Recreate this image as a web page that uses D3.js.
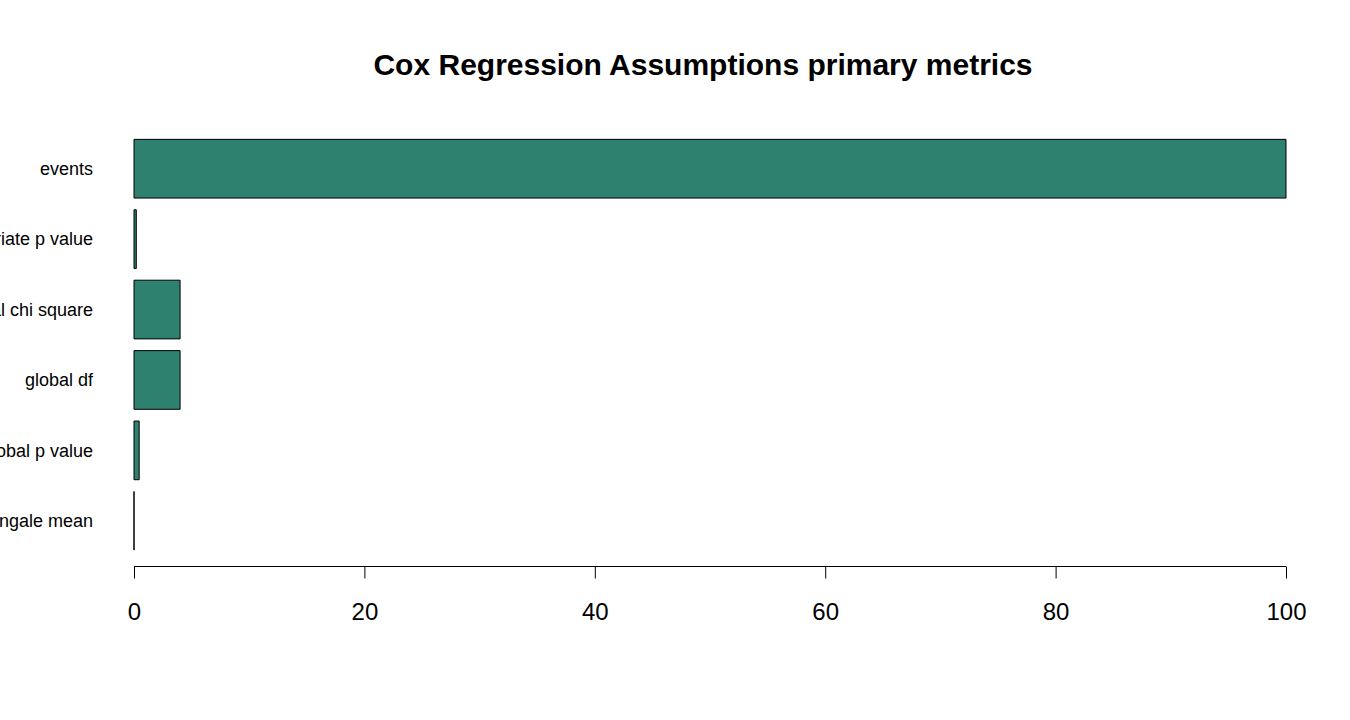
<!DOCTYPE html>
<html>
<head>
<meta charset="utf-8">
<script src="https://cdn.jsdelivr.net/npm/d3@7"></script>
<style>
  body { margin: 0; background: #fff; }
  svg { display: block; font-family: "Liberation Sans", Arial, sans-serif; }
</style>
</head>
<body>
<div id="chart"></div>
<script>
// metric names and values (top to bottom)
const metrics = ["events", "min covariate p value", "global chi square", "global df", "global p value", "martingale mean"];
const values = [100, 0.2, 4, 4, 0.45, 0];
const xTicks = [0, 20, 40, 60, 80, 100];

const width = 1350, height = 720;
const barColor = "#2e806f";

const svg = d3.select("#chart")
  .append("svg")
  .attr("width", width)
  .attr("height", height);

// plot region as in the base R barplot
const x = d3.scaleLinear().domain([0, 100]).range([134, 1286]);
const y = d3.scaleBand().domain(metrics).range([133.5, 556]).paddingInner(1 / 6).paddingOuter(1 / 12);

svg.append("text")
  .attr("x", 703)
  .attr("y", 75)
  .attr("text-anchor", "middle")
  .attr("font-size", 30)
  .attr("font-weight", "bold")
  .text("Cox Regression Assumptions primary metrics");

// bars drawn as paths so a zero value still shows its outline, like R does
svg.append("g")
  .selectAll("path")
  .data(metrics)
  .enter()
  .append("path")
  .attr("d", (d, i) => {
    const x0 = x(0), x1 = x(values[i]), y0 = y(d), h = y.bandwidth();
    return `M${x0},${y0}H${x1}V${y0 + h}H${x0}Z`;
  })
  .attr("fill", barColor)
  .attr("stroke", "#000")
  .attr("stroke-width", 1);

// labels sit left of the bars, right-aligned (they run off the page edge)
svg.append("g")
  .selectAll("text")
  .data(metrics)
  .enter()
  .append("text")
  .attr("x", 93)
  .attr("y", d => y(d) + y.bandwidth() / 2)
  .attr("dy", "0.35em")
  .attr("text-anchor", "end")
  .attr("font-size", 18)
  .text(d => d);

const axis = svg.append("g")
  .attr("transform", "translate(0,566.5)")
  .call(d3.axisBottom(x).tickValues(xTicks).tickSize(12).tickPadding(24).tickFormat(d3.format("d")));
axis.select(".domain").attr("stroke", "#000").attr("d", `M${x(0)},0H${x(100)}`);
axis.selectAll(".tick line").attr("stroke", "#000");
axis.selectAll(".tick text")
  .attr("font-size", 24)
  .attr("font-family", "Liberation Sans, Arial, sans-serif")
  .attr("fill", "#000");
</script>
</body>
</html>
